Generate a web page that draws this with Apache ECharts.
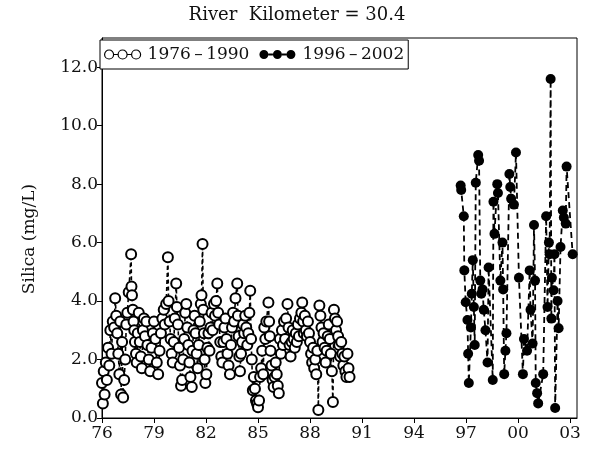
<!DOCTYPE html>
<html>
<head>
<meta charset="utf-8">
<script src="https://cdn.jsdelivr.net/npm/echarts@6/dist/echarts.min.js"></script>
<style>html,body{margin:0;padding:0;background:#fff}#c{width:597px;height:450px}</style>
</head>
<body>
<div id="c"></div>
<script>
// ---- data: [decimal year, silica mg/L] ----
const seriesNames = ['1976\u2009\u2013\u20091990', '1996\u2009\u2013\u20092002'];
const xTickYears = [1976, 1979, 1982, 1985, 1988, 1991, 1994, 1997, 2000, 2003];
const yTickValues = [0, 2, 4, 6, 8, 10, 12];

const obs1976to1990 = [
[1976.00,1.2],[1976.05,0.5],[1976.10,1.6],[1976.15,0.8],[1976.22,1.9],[1976.28,1.3],[1976.35,2.4],[1976.42,1.8],
[1976.48,3.0],[1976.55,2.2],[1976.62,3.3],[1976.70,3.1],[1976.76,4.1],[1976.82,3.5],[1976.88,2.9],[1976.94,2.2],
[1977.00,1.5],[1977.05,3.3],[1977.10,0.8],[1977.16,2.6],[1977.22,0.7],[1977.28,1.3],[1977.34,2.0],[1977.40,3.2],
[1977.46,3.6],[1977.54,4.3],[1977.68,5.6],[1977.70,4.5],[1977.73,4.2],[1977.78,3.7],[1977.82,3.3],[1977.86,3.0],
[1977.90,2.6],[1977.96,2.2],[1978.00,1.9],[1978.06,2.9],[1978.12,3.6],[1978.18,2.6],[1978.24,2.1],[1978.30,1.7],
[1978.36,3.0],[1978.42,3.4],[1978.48,2.8],[1978.56,3.3],[1978.62,2.5],[1978.70,2.0],[1978.78,1.6],[1978.86,2.4],
[1978.94,2.9],[1979.00,3.3],[1979.08,2.7],[1979.16,1.9],[1979.24,1.5],[1979.32,2.3],[1979.40,2.9],[1979.48,3.4],
[1979.56,3.7],[1979.62,3.2],[1979.70,3.9],[1979.80,5.5],[1979.84,4.0],[1979.90,3.3],[1979.96,2.7],[1980.02,2.2],
[1980.08,1.9],[1980.14,2.6],[1980.20,3.4],[1980.28,4.6],[1980.32,3.8],[1980.38,3.2],[1980.44,2.4],[1980.50,1.8],
[1980.56,1.1],[1980.62,1.3],[1980.68,2.0],[1980.74,2.7],[1980.80,3.6],[1980.86,3.9],[1980.92,3.1],[1980.98,2.5],
[1981.04,1.9],[1981.10,1.4],[1981.18,1.06],[1981.22,2.3],[1981.28,3.0],[1981.34,3.5],[1981.40,2.9],[1981.46,2.2],
[1981.52,1.7],[1981.58,2.5],[1981.64,3.3],[1981.70,3.9],[1981.74,4.2],[1981.80,5.95],[1981.84,3.7],[1981.88,2.9],
[1981.92,2.0],[1981.96,1.2],[1982.02,1.5],[1982.08,2.4],[1982.14,2.9],[1982.20,2.3],[1982.26,3.1],[1982.32,3.6],
[1982.38,3.0],[1982.46,3.9],[1982.52,3.5],[1982.58,4.0],[1982.65,4.6],[1982.70,3.6],[1982.76,3.2],[1982.82,2.6],
[1982.88,2.1],[1982.94,1.9],[1983.00,2.6],[1983.06,3.1],[1983.12,3.4],[1983.18,2.7],[1983.24,2.2],[1983.30,1.8],
[1983.38,1.5],[1983.44,2.5],[1983.50,3.1],[1983.56,3.6],[1983.62,3.3],[1983.70,4.1],[1983.80,4.6],[1983.84,3.5],
[1983.88,2.8],[1983.92,2.1],[1983.96,1.6],[1984.02,2.2],[1984.08,2.6],[1984.14,3.2],[1984.20,2.9],[1984.26,3.5],
[1984.32,3.1],[1984.38,2.5],[1984.44,2.9],[1984.50,3.6],[1984.55,4.35],[1984.60,2.7],[1984.64,2.0],[1984.70,0.95],
[1984.76,1.4],[1984.82,1.0],[1984.88,0.6],[1984.94,0.5],[1985.00,0.37],[1985.06,0.6],[1985.12,1.4],[1985.18,1.7],
[1985.24,2.3],[1985.30,1.5],[1985.36,3.1],[1985.42,2.7],[1985.48,3.3],[1985.60,3.95],[1985.64,3.3],[1985.68,2.8],
[1985.72,2.3],[1985.78,1.8],[1985.84,1.3],[1985.90,1.06],[1985.96,1.4],[1986.02,1.9],[1986.08,1.5],[1986.14,1.1],
[1986.20,0.85],[1986.26,2.7],[1986.32,2.2],[1986.38,3.0],[1986.44,2.5],[1986.50,3.3],[1986.56,2.7],[1986.62,3.4],
[1986.70,3.9],[1986.76,3.1],[1986.82,2.5],[1986.88,2.1],[1986.94,2.6],[1987.00,3.0],[1987.06,2.7],[1987.12,2.4],
[1987.18,2.9],[1987.24,2.6],[1987.30,3.2],[1987.36,2.8],[1987.42,3.4],[1987.50,3.6],[1987.55,3.95],[1987.60,3.3],
[1987.64,2.9],[1987.70,3.5],[1987.76,3.0],[1987.82,2.8],[1987.88,3.3],[1987.94,2.9],[1988.00,2.6],[1988.06,2.2],
[1988.12,1.9],[1988.18,2.4],[1988.24,1.7],[1988.30,2.0],[1988.36,1.5],[1988.42,2.3],[1988.48,0.27],[1988.54,3.85],
[1988.60,3.5],[1988.66,3.1],[1988.72,2.6],[1988.78,2.9],[1988.84,2.4],[1988.90,1.9],[1988.96,2.3],[1989.02,2.8],
[1989.08,3.2],[1989.14,2.7],[1989.20,2.2],[1989.26,1.6],[1989.32,0.55],[1989.38,3.7],[1989.44,3.4],[1989.50,3.0],
[1989.56,3.3],[1989.62,2.8],[1989.68,2.5],[1989.74,2.1],[1989.80,2.6],[1989.86,2.2],[1989.92,1.8],[1989.98,2.1],
[1990.04,1.6],[1990.10,1.4],[1990.16,2.2],[1990.22,1.7],[1990.28,1.4]
];

const obs1996to2002 = [
[1996.69,7.95],[1996.72,7.8],[1996.87,6.9],[1996.90,5.05],[1996.98,3.96],[1997.08,3.35],[1997.12,2.2],[1997.16,1.2],
[1997.28,3.1],[1997.33,4.25],[1997.39,5.4],[1997.45,3.8],[1997.50,2.5],[1997.56,8.05],[1997.70,9.0],[1997.75,8.8],
[1997.82,4.7],[1997.88,4.25],[1997.95,4.4],[1998.02,3.7],[1998.12,3.0],[1998.24,1.9],[1998.30,5.15],[1998.54,1.3],
[1998.58,7.4],[1998.64,6.3],[1998.80,8.0],[1998.84,7.7],[1998.98,4.7],[1999.10,6.0],[1999.14,4.4],[1999.20,1.5],
[1999.27,2.3],[1999.33,2.9],[1999.50,8.35],[1999.55,7.9],[1999.60,7.5],[1999.76,7.3],[1999.88,9.08],[2000.05,4.8],
[2000.28,1.5],[2000.34,2.7],[2000.52,2.3],[2000.67,5.05],[2000.72,3.7],[2000.84,2.55],[2000.92,6.6],[2000.98,4.7],
[2001.02,1.2],[2001.10,0.85],[2001.16,0.5],[2001.45,1.5],[2001.62,6.9],[2001.70,3.8],[2001.78,6.0],[2001.82,5.6],
[2001.88,11.6],[2001.92,3.4],[2001.95,4.8],[2002.05,4.37],[2002.10,5.6],[2002.14,0.34],[2002.28,4.0],[2002.34,3.07],
[2002.45,5.85],[2002.58,7.1],[2002.64,6.86],[2002.75,6.65],[2002.80,8.6],[2003.15,5.6]
];

const baseYear = 1976;
const toX = arr => arr.map(p => [p[0] - baseYear, p[1]]);

const FONT = 'DejaVu Serif';
const chart = echarts.init(document.getElementById('c'), null, {renderer: 'canvas'});

const emptyIcon = 'path://M0,5a5,5 0 1,0 10,0a5,5 0 1,0 -10,0M10,5L15,5M15,5a5,5 0 1,0 10,0a5,5 0 1,0 -10,0M25,5L30,5M30,5a5,5 0 1,0 10,0a5,5 0 1,0 -10,0';
const fullIcon = 'path://M0,5a5,5 0 1,0 10,0a5,5 0 1,0 -10,0M10,4L15,4L15,6L10,6ZM15,5a5,5 0 1,0 10,0a5,5 0 1,0 -10,0M25,4L30,4L30,6L25,6ZM30,5a5,5 0 1,0 10,0a5,5 0 1,0 -10,0';

chart.setOption({
  animation: false,
  backgroundColor: '#fff',
  title: {
    text: 'River  Kilometer = 30.4',
    left: 292, textAlign: 'center', top: 1,
    textStyle: {fontFamily: FONT, fontSize: 18, fontWeight: 'normal', color: '#111'}
  },
  legend: {
    left: 100, top: 40,
    orient: 'horizontal',
    backgroundColor: '#fff',
    borderColor: '#000', borderWidth: 1, borderRadius: 0,
    padding: [6, 4, 6, 4],
    itemGap: 10,
    itemWidth: 36, itemHeight: 9,
    textStyle: {fontFamily: FONT, fontSize: 17, color: '#111', padding: [0,0,0,2]},
    data: [
      {name: seriesNames[0], icon: emptyIcon, itemStyle: {color: '#fff', borderColor: '#000', borderWidth: 1.2}},
      {name: seriesNames[1], icon: fullIcon, itemStyle: {color: '#000', borderColor: '#000', borderWidth: 0}}
    ]
  },
  grid: {
    left: 102, right: 20, top: 38, bottom: 32,
    show: true, borderColor: '#000', borderWidth: 1, backgroundColor: 'transparent'
  },
  xAxis: {
    type: 'value', min: 0, max: 27.4, interval: 3,
    axisLine: {onZero: false, lineStyle: {color: '#000', width: 1}},
    axisTick: {show: true, length: 5, inside: false, lineStyle: {color: '#000'}},
    splitLine: {show: false},
    axisLabel: {
      fontFamily: FONT, fontSize: 17, color: '#111', margin: 7,
      showMaxLabel: false,
      formatter: v => {
        const yr = baseYear + v;
        if (!xTickYears.includes(Math.round(yr)) || Math.abs(yr - Math.round(yr)) > 1e-6) return '';
        return String(Math.round(yr) % 100).padStart(2, '0');
      }
    }
  },
  yAxis: {
    type: 'value', min: 0, max: 13, interval: 2,
    name: 'Silica (mg/L)', nameLocation: 'middle', nameGap: 64,
    nameTextStyle: {fontFamily: FONT, fontSize: 17, color: '#111', padding: [0, 0, 0, -22]},
    axisLine: {show: true, lineStyle: {color: '#000', width: 1}},
    axisTick: {show: true, length: 5, lineStyle: {color: '#000'}},
    splitLine: {show: false},
    axisLabel: {
      fontFamily: FONT, fontSize: 17, color: '#111', margin: 4,
      showMaxLabel: false,
      formatter: v => yTickValues.includes(v) ? v.toFixed(1) : ''
    }
  },
  series: [
    {
      name: seriesNames[0], type: 'line', data: toX(obs1976to1990),
      symbol: 'emptyCircle', symbolSize: 10,
      itemStyle: {color: '#000', borderColor: '#000', borderWidth: 1.1},
      lineStyle: {color: '#000', width: 1.6, type: [4, 3]},
      z: 2
    },
    {
      name: seriesNames[1], type: 'line', data: toX(obs1996to2002),
      symbol: 'circle', symbolSize: 10,
      itemStyle: {color: '#000'},
      lineStyle: {color: '#000', width: 1.8, type: [6, 4]},
      z: 3
    }
  ]
});
</script>
</body>
</html>
